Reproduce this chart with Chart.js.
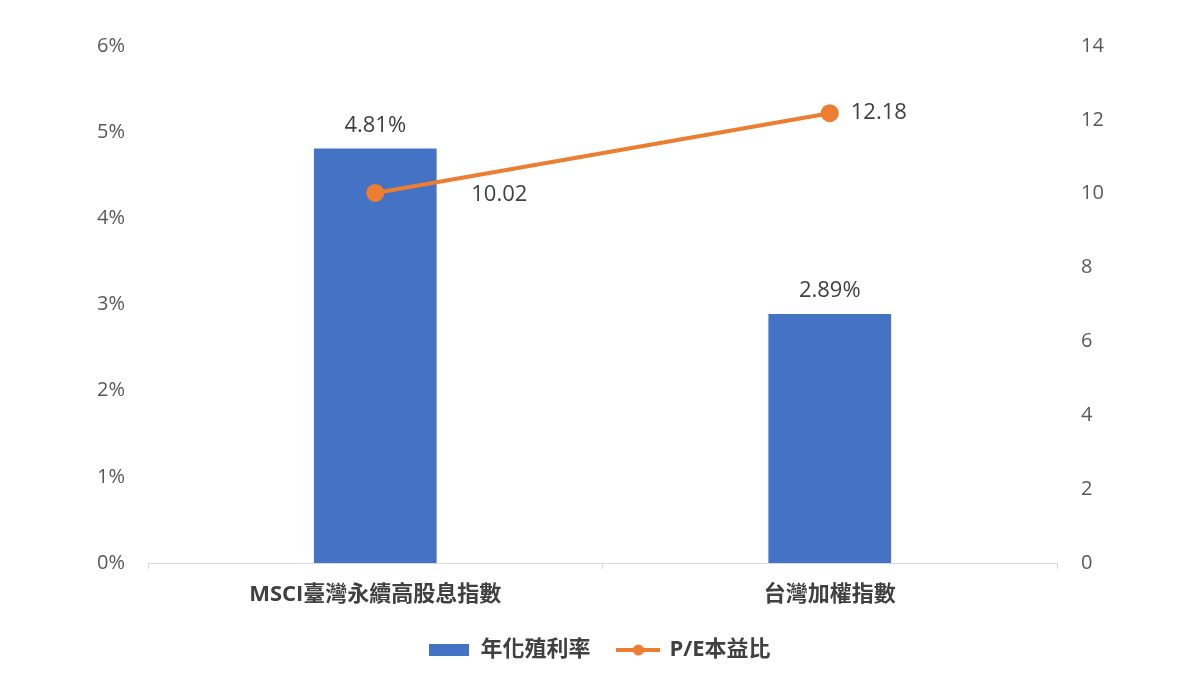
<!DOCTYPE html>
<html>
<head>
<meta charset="utf-8">
<script src="https://cdn.jsdelivr.net/npm/chart.js@4/dist/chart.umd.min.js"></script>
<style>
html,body{margin:0;padding:0;background:#fff;}
#wrap{width:1200px;height:675px;position:relative;}
</style>
</head>
<body>
<div id="wrap"><canvas id="c" width="1200" height="675"></canvas></div>
<script>
const categories = ['MSCI臺灣永續高股息指數', '台灣加權指數'];
const yieldValues = [4.81, 2.89];      // 年化殖利率 (%)
const peValues = [10.02, 12.18];       // P/E本益比
const seriesNames = ['年化殖利率', 'P/E本益比'];
const leftTicks = [0, 1, 2, 3, 4, 5, 6];
const rightTicks = [0, 2, 4, 6, 8, 10, 12, 14];

const FONT = "'Open Sans', 'Noto Sans CJK TC', sans-serif";
const BLUE = '#4472C4';
const ORANGE = '#ED7D31';

function makeBox() {
  const c = document.createElement('canvas');
  c.width = 40; c.height = 12;
  const g = c.getContext('2d');
  g.fillStyle = BLUE; g.fillRect(0, 0, 40, 12);
  return c;
}
function makeLineMarker() {
  const c = document.createElement('canvas');
  c.width = 44; c.height = 14;
  const g = c.getContext('2d');
  g.strokeStyle = ORANGE; g.lineWidth = 4;
  g.beginPath(); g.moveTo(0, 7); g.lineTo(44, 7); g.stroke();
  g.fillStyle = ORANGE; g.beginPath(); g.arc(22, 7, 5.5, 0, Math.PI * 2); g.fill();
  return c;
}
const legendImgs = [makeBox(), makeLineMarker()];

const labelPlugin = {
  id: 'valueLabels',
  afterDatasetsDraw(chart, args, opts) {
    const ctx = chart.ctx;
    ctx.save();
    ctx.font = "22px " + FONT;
    ctx.fillStyle = '#404040';
    ctx.textBaseline = 'middle';
    const barMeta = chart.getDatasetMeta(0);
    barMeta.data.forEach((el, i) => {
      ctx.textAlign = 'center';
      ctx.fillText(yieldValues[i].toFixed(2) + '%', el.x, el.y - 23);
    });
    const lineMeta = chart.getDatasetMeta(1);
    lineMeta.data.forEach((el, i) => {
      ctx.textAlign = 'left';
      const off = opts.lineOffsets[i];
      ctx.fillText(peValues[i].toFixed(2), el.x + off[0], el.y + off[1]);
    });
    ctx.restore();
  }
};

new Chart(document.getElementById('c'), {
  data: {
    labels: categories,
    datasets: [
      {
        type: 'bar',
        label: seriesNames[0],
        data: yieldValues,
        backgroundColor: BLUE,
        yAxisID: 'y',
        categoryPercentage: 1,
        barPercentage: 0.27,
        order: 2
      },
      {
        type: 'line',
        label: seriesNames[1],
        data: peValues,
        borderColor: ORANGE,
        backgroundColor: ORANGE,
        borderWidth: 4,
        pointRadius: 7,
        pointHoverRadius: 7,
        pointBackgroundColor: ORANGE,
        pointBorderColor: ORANGE,
        yAxisID: 'y1',
        order: 1
      }
    ]
  },
  options: {
    responsive: false,
    animation: false,
    layout: { padding: { top: 46, left: 0, right: 0, bottom: 4 } },
    scales: {
      x: {
        offset: true,
        grid: { display: true, drawOnChartArea: false, drawTicks: true, tickLength: 6, color: '#d9d9d9', offset: true },
        border: { display: true, color: '#d9d9d9', width: 1 },
        ticks: { color: '#404040', font: { family: FONT, size: 22, weight: 'bold' }, padding: 13, maxRotation: 0 },
        afterFit(s) { s.height = 48; }
      },
      y: {
        position: 'left',
        min: 0, max: 6,
        afterBuildTicks(s) { s.ticks = leftTicks.map(v => ({ value: v })); },
        grid: { display: false, drawTicks: false },
        border: { display: false },
        ticks: { color: '#595959', font: { family: FONT, size: 20 }, padding: 23, callback: v => v + '%' },
        afterFit(s) { s.width = 148; }
      },
      y1: {
        position: 'right',
        min: 0, max: 14,
        afterBuildTicks(s) { s.ticks = rightTicks.map(v => ({ value: v })); },
        grid: { display: false, drawTicks: false },
        border: { display: false },
        ticks: { color: '#595959', font: { family: FONT, size: 20 }, padding: 24 },
        afterFit(s) { s.width = 143; }
      }
    },
    plugins: {
      tooltip: { enabled: false },
      valueLabels: { lineOffsets: [[96, 2], [21, 0]] },
      legend: {
        position: 'bottom',
        labels: {
          color: '#404040',
          font: { family: FONT, size: 22, weight: 'bold' },
          usePointStyle: true,
          pointStyleWidth: 40,
          boxHeight: 12,
          padding: 28,
          generateLabels(chart) {
            const items = Chart.defaults.plugins.legend.labels.generateLabels(chart);
            items.sort((a, b) => a.datasetIndex - b.datasetIndex);
            items.forEach(it => { it.pointStyle = legendImgs[it.datasetIndex]; });
            return items;
          }
        }
      }
    }
  },
  plugins: [labelPlugin]
});
</script>
</body>
</html>
